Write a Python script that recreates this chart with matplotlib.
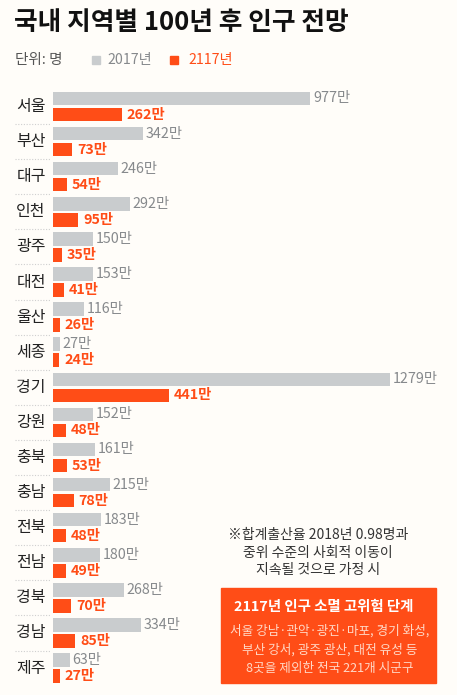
import matplotlib.pyplot as plt
import matplotlib.transforms as mtransforms

plt.rcParams['font.family'] = ['Noto Sans CJK KR', 'DejaVu Sans']

# --- 데이터 (단위: 만 명) ---
regions = ['서울', '부산', '대구', '인천', '광주', '대전', '울산', '세종', '경기',
           '강원', '충북', '충남', '전북', '전남', '경북', '경남', '제주']
pop_2017 = [977, 342, 246, 292, 150, 153, 116, 27, 1279,
            152, 161, 215, 183, 180, 268, 334, 63]
pop_2117 = [262, 73, 54, 95, 35, 41, 26, 24, 441,
            48, 53, 78, 48, 49, 70, 85, 27]

GRAY = '#c9ccce'
GRAY_TXT = '#86898c'
ORANGE = '#ff4d17'
BG = '#fffdf9'

W, H = 457, 695
fig = plt.figure(figsize=(W / 100, H / 100), dpi=100, facecolor=BG)

# 막대 영역 (픽셀 기준으로 배치)
left, top, bottom = 53, 85, 695
ax = fig.add_axes([left / W, 1 - bottom / H, 1 - left / W, (bottom - top) / H])
ax.set_facecolor(BG)
px_per_unit = 0.2635
pitch = 35.1
ax.set_xlim(0, (W - left) / px_per_unit)
ax.set_ylim((bottom - 106.5) / pitch, (top - 106.5) / pitch)
ax.axis('off')

ys = list(range(len(regions)))
off = 0.228
bh = 0.385
ax.barh([y - off for y in ys], pop_2017, height=bh, color=GRAY)
ax.barh([y + off for y in ys], pop_2117, height=bh, color=ORANGE)

for y, a, b in zip(ys, pop_2017, pop_2117):
    ax.annotate(f'{a}만', (a, y - off), xytext=(2, 0), textcoords='offset points',
                va='center', ha='left', fontsize=10.3, color=GRAY_TXT)
    ax.annotate(f'{b}만', (b, y + off), xytext=(3.5, 0), textcoords='offset points',
                va='center', ha='left', fontsize=10.3, color=ORANGE, fontweight='bold')

# 지역명과 구분선
trans = mtransforms.blended_transform_factory(fig.transFigure, ax.transData)
for y, name in zip(ys, regions):
    ax.text(31 / W, y, name, transform=trans, ha='center', va='center',
            fontsize=11.5, color='#222222', clip_on=False)
    if y < len(regions) - 1:
        ax.plot([15 / W, 50 / W], [y + 0.5, y + 0.5], transform=trans,
                color='#cfcfcf', lw=0.8, ls=(0, (1, 1.5)), clip_on=False)

# 제목과 범례
fig.text(14 / W, 1 - 22 / H, '국내 지역별 100년 후 인구 전망', fontsize=18.5,
         fontweight='black', color='#111111', va='center', ha='left')
fig.text(15 / W, 1 - 60 / H, '단위: 명', fontsize=10.5, color='#555555', va='center')
fig.patches.append(plt.Rectangle((92 / W, 1 - 64 / H), 8 / W, 8 / H,
                                 transform=fig.transFigure, color=GRAY))
fig.text(107 / W, 1 - 60 / H, '2017년', fontsize=10.2, color=GRAY_TXT, va='center')
fig.patches.append(plt.Rectangle((170 / W, 1 - 64 / H), 8 / W, 8 / H,
                                 transform=fig.transFigure, color=ORANGE))
fig.text(188 / W, 1 - 60 / H, '2117년', fontsize=10.2, color=ORANGE, va='center')

# 주석
note = ['※합계출산율 2018년 0.98명과', '중위 수준의 사회적 이동이', '지속될 것으로 가정 시']
for i, line in enumerate(note):
    fig.text(318 / W, 1 - (535 + 17.5 * i) / H, line, fontsize=10,
             color='#333333', ha='center', va='center')

# 주황 박스
fig.patches.append(plt.Rectangle((221 / W, 1 - 683 / H), 215 / W, 95 / H,
                                 transform=fig.transFigure, color=ORANGE))
fig.text(324 / W, 1 - 607 / H, '2117년 인구 소멸 고위험 단계', fontsize=10.4,
         fontweight='bold', color='white', ha='center', va='center')
box_lines = ['서울 강남·관악·광진·마포, 경기 화성,', '부산 강서, 광주 광산, 대전 유성 등',
             '8곳을 제외한 전국 221개 시군구']
for i, line in enumerate(box_lines):
    fig.text(330 / W, 1 - (631 + 18.5 * i) / H, line, fontsize=9.1,
             color='#ffd8c6', ha='center', va='center')

fig.savefig('out.png', dpi=100, facecolor=BG)
